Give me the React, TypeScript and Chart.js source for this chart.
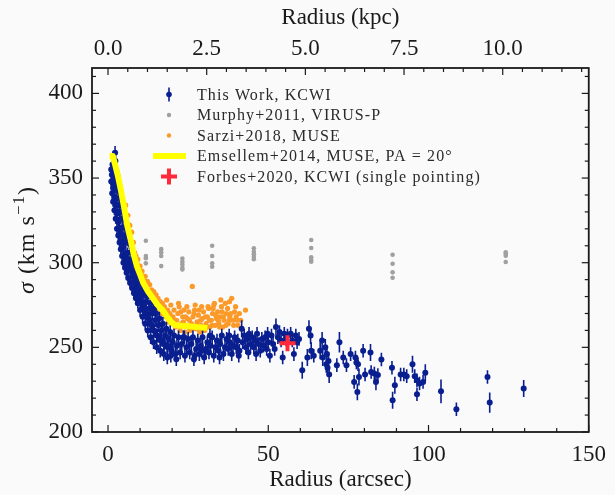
import React, { useEffect, useRef } from 'react';
import { Chart, registerables } from 'chart.js';
Chart.register(...registerables);

// ---- axes ----
const KPC_PER_ARCSEC = 0.0812;
const X_MIN = -5;
const X_MAX = 150;
const Y_MIN = 200;
const Y_MAX = 415;
const X_TICKS = [0, 50, 100, 150];
const X_MINOR = [10, 20, 30, 40, 60, 70, 80, 90, 110, 120, 130, 140];
const Y_TICKS = [200, 250, 300, 350, 400];
const Y_MINOR = [210, 220, 230, 240, 260, 270, 280, 290, 310, 320, 330, 340, 360, 370, 380, 390, 410];
const KPC_TICKS = [0, 2.5, 5, 7.5, 10];
const KPC_MINOR = [0.5, 1, 1.5, 2, 3, 3.5, 4, 4.5, 5.5, 6, 6.5, 7, 8, 8.5, 9, 9.5, 10.5, 11, 11.5, 12];

// ---- This Work, KCWI ----
const kcwiR = [
  1.2, 1.4, 1.5, 1.7, 1.8, 2.0, 2.1, 2.2, 2.3, 2.4, 2.6, 2.7, 2.8, 3.0, 3.1, 3.3, 3.4, 3.6, 3.7, 3.9,
  4.0, 4.2, 4.3, 4.5, 4.6, 4.8, 5.0, 5.1, 5.3, 5.5, 5.6, 5.8, 6.0, 6.1, 6.3, 6.5, 6.7, 6.8, 7.0, 7.2,
  7.4, 7.6, 7.8, 8.0, 8.2, 8.4, 8.6, 8.8, 9.0, 9.2, 9.5, 9.7, 9.9, 10.2, 10.4, 10.7, 11.0, 11.2, 11.5, 11.8,
  12.0, 12.3, 12.6, 12.9, 13.2, 13.5, 13.8, 14.1, 14.4, 14.7, 15.0, 15.4, 15.7, 16.0, 16.4, 16.7, 17.1, 17.5, 17.8, 18.2,
  18.6, 19.0, 19.4, 19.8, 20.2, 20.6, 21.0, 21.5, 22.0, 22.5, 23.0, 23.5, 24.0, 24.5, 25.0, 25.5, 26.0, 26.5, 27.0, 27.5,
  28.0, 28.5, 29.0, 29.5, 30.0, 30.5, 31.0, 31.5, 32.0, 32.5, 33.0, 33.5, 34.0, 34.5, 35.0, 35.5, 36.0, 36.5, 37.0, 37.5,
  38.0, 38.6, 39.0, 39.5, 40.0, 40.5, 41.0, 41.7, 42.0, 42.5, 43.0, 43.5, 44.0, 44.5, 45.0, 45.5, 46.0, 46.5, 47.0, 47.5,
  48.0, 48.5, 49.0, 49.5, 50.0, 51.0, 51.5, 52.0, 52.4, 53.0, 53.5, 54.0, 54.5, 55.0, 55.5, 56.0, 57.0, 57.5, 58.0, 58.6,
  59.0, 59.6, 60.6, 62.2, 62.7, 63.2, 63.4, 64.2, 66.2, 66.8, 67.0, 67.8, 68.3, 68.1, 68.8, 69.0, 68.5, 72.2, 71.4, 73.4,
  74.4, 75.7, 77.2, 77.5, 78.0, 76.8, 78.3, 77.8, 79.6, 81.9, 80.2, 82.1, 83.1, 83.6, 84.2, 85.3, 88.6, 88.8, 89.5, 91.3,
  92.3, 93.2, 95.0, 95.7, 96.4, 97.2, 96.4, 98.3, 99.0, 103.9, 108.7, 118.4, 119.1, 129.7,
  1.0, 1.0, 1.3, 1.6, 1.6, 2.0, 2.0, 2.4, 2.4, 2.8, 2.8, 3.2, 3.2, 3.6, 3.6, 4.0, 4.0, 4.4, 4.4, 4.8,
  4.8, 5.3, 5.3, 5.8, 5.8, 6.3, 6.3, 6.9, 6.9, 7.5, 7.5, 8.1, 8.1, 8.7, 8.7, 9.3, 9.3, 10.0, 10.0, 10.8,
  10.8, 11.6, 11.6, 12.4, 12.4, 13.3, 13.3, 14.2, 14.2, 15.2, 15.2, 16.3, 16.3, 17.4, 17.4, 18.5, 18.5, 19.6, 19.6, 21.3,
  23.8, 26.8, 29.2, 31.8, 34.8, 37.8, 40.8, 43.8, 46.2, 49.8, 50.5,
];
const kcwiSigma = [
  352, 358, 347, 362, 350, 356, 343, 365, 360, 349, 354, 338, 346, 351, 334, 342, 346, 330, 338, 341,
  326, 334, 336, 321, 330, 332, 316, 325, 328, 312, 320, 323, 306, 315, 318, 302, 311, 313, 298, 306,
  309, 294, 301, 303, 289, 296, 299, 285, 292, 295, 281, 288, 291, 277, 284, 287, 274, 281, 283, 270,
  277, 280, 267, 273, 276, 263, 270, 273, 260, 266, 270, 257, 263, 267, 254, 260, 264, 252, 257, 261,
  250, 255, 259, 248, 253, 257, 246, 251, 256, 247, 252, 256, 245, 250, 255, 247, 252, 256, 245, 249,
  254, 246, 251, 256, 244, 249, 253, 247, 251, 256, 245, 250, 254, 248, 252, 257, 246, 250, 255, 249,
  253, 246, 251, 256, 250, 254, 248, 261, 253, 257, 250, 255, 258, 252, 256, 250, 254, 258, 252, 248,
  255, 251, 256, 249, 253, 257, 252, 249, 262, 256, 259, 254, 244, 258, 255, 257, 258, 254, 246, 257,
  253, 255, 236.5, 244, 261, 257, 248, 245, 248, 254, 244, 250, 246, 240, 242, 234, 238, 253, 239.5, 244,
  239.5, 246, 244, 241, 240, 229.6, 232.5, 223.7, 248, 247, 234, 235.5, 234.6, 229.6, 233.6, 242.8, 238, 218.8, 227.6, 234,
  234, 233, 240, 233, 230.6, 228.6, 222.3, 229.6, 235, 224, 213.4, 232.5, 217.4, 225.7,
  355, 348, 341, 336, 344, 331, 339, 326, 334, 320, 329, 316, 324, 312, 320, 308, 317, 304, 313, 300,
  309, 297, 305, 294, 302, 291, 299, 288, 296, 285, 292, 282, 289, 279, 286, 276, 283, 272, 280, 268,
  276, 264, 272, 260, 268, 256, 264, 253, 260, 250, 257, 248, 255, 246, 252, 244, 251, 245, 250, 243,
  256, 243, 248, 257, 244, 257, 245, 247, 246, 258, 245,
];
const kcwiErr = [
  4, 4, 4, 4, 4, 4, 4, 4, 4, 4, 3, 3, 3, 3, 3, 3, 3, 3, 3, 3,
  3, 3, 3, 3, 3, 3, 3, 3, 3, 3, 3, 3, 3, 3, 3, 3, 3, 3, 3, 3,
  3, 3, 3, 3, 3, 3, 3, 3, 3, 3, 3, 3, 3, 4, 4, 4, 4, 4, 4, 4,
  4, 4, 4, 4, 4, 4, 4, 4, 4, 4, 4, 4, 4, 4, 4, 4, 4, 4, 4, 4,
  4, 4, 4, 4, 4, 4, 4, 4, 4, 4, 4, 4, 4, 4, 4, 4, 4, 4, 4, 4,
  4, 4, 4, 4, 4, 4, 4, 4, 4, 4, 4, 4, 4, 4, 4, 4, 4, 4, 4, 4,
  4, 4, 4, 4, 4, 4, 4, 5, 4, 4, 4, 4, 4, 4, 4, 4, 4, 4, 4, 4,
  4, 4, 4, 4, 4, 4, 4, 4, 5, 4, 4, 4, 4, 4, 4, 4, 4, 4, 4, 4,
  4, 4, 5, 5, 5, 5, 5, 4, 5, 5, 5, 5, 4, 5, 5, 5, 4, 6, 4, 4,
  4, 4, 4, 4, 4, 4, 5, 5, 4, 5, 4, 4, 4, 5, 4, 4, 4, 5, 5, 4,
  4, 4, 5, 4, 4, 4, 4, 4, 5, 7, 4, 4, 6, 5,
  4, 4, 4, 3, 3, 3, 3, 3, 3, 3, 3, 3, 3, 3, 3, 3, 3, 3, 3, 3,
  3, 3, 3, 3, 3, 3, 3, 3, 3, 3, 3, 3, 3, 3, 3, 3, 3, 4, 4, 4,
  4, 4, 4, 4, 4, 4, 4, 4, 4, 4, 4, 4, 4, 4, 4, 4, 4, 4, 4, 4,
  4, 4, 4, 4, 4, 4, 4, 4, 4, 4, 4,
];

// ---- Murphy+2011, VIRUS-P ----
const murphyR = [11.8, 11.8, 11.8, 11.8, 16.6, 16.6, 16.6, 16.6, 23.2, 23.2, 23.2, 23.2, 23.2, 32.5, 32.5, 32.5, 32.5,
  45.5, 45.5, 45.5, 45.5, 45.5, 63.4, 63.4, 63.4, 63.4, 63.4, 88.8, 88.8, 88.8, 88.8, 124.1, 124.1, 124.1, 124.1];
const murphySigma = [313, 304, 302.6, 299.6, 308, 306, 304, 298, 302.5, 300.5, 299, 297, 296, 310, 304, 299.6, 297.6,
  308.5, 306.5, 305, 303.5, 302, 313.4, 308.7, 303.2, 301.6, 300.6, 304.7, 299.4, 294.3, 291.1, 306.2, 305.2, 304.1, 300.4];

// ---- Sarzi+2018, MUSE ----
const sarziR = [
  5.5, 6.2, 6.8, 7.4, 7.9, 8.3, 8.7, 9.0, 9.3, 9.6, 10.0, 10.3, 10.6, 11.0, 11.3, 11.6, 12.0, 12.3, 12.6, 13.0,
  13.3, 13.6, 14.0, 14.3, 14.6, 15.0, 15.3, 15.6, 16.0, 16.3, 16.6, 17.0, 17.3, 17.6, 18.0, 18.3, 18.6, 19.0, 19.3, 19.6,
  20.0, 20.3, 20.6, 21.0, 21.4, 21.8, 22.2, 22.5, 22.9, 23.3, 23.7, 24.0, 24.4, 24.8, 25.2, 25.6, 26.0, 26.3, 26.5, 27.0,
  27.4, 27.8, 28.2, 28.6, 29.0, 29.4, 29.8, 30.2, 30.6, 31.0, 31.4, 31.8, 32.2, 32.6, 33.0, 33.4, 33.8, 34.2, 34.6, 35.0,
  35.4, 35.8, 36.2, 36.6, 37.0, 37.5, 38.0, 38.6, 39.0, 39.5, 40.0, 40.5, 41.0, 42.9,
  12.2, 13.8, 15.2, 16.8, 18.8, 19.8, 20.8, 21.6, 22.7, 23.5, 24.2, 25.0, 25.4, 26.2, 26.8, 27.6, 28.4, 28.9, 29.6, 30.4,
  30.9, 31.6, 32.4, 32.8, 33.6, 34.4, 34.8, 35.6, 36.0, 36.8, 37.3, 37.8, 38.3, 39.2, 39.8, 40.3, 41.4, 37.9, 35.2, 33.2,
  31.2, 29.2, 27.2, 24.6, 22.0,
];
const sarziSigma = [
  334, 328, 322, 318, 312, 306, 304, 300, 302, 296, 298, 293, 295, 291, 289, 292, 286, 289, 284, 287,
  281, 284, 279, 283, 277, 281, 275, 279, 274, 277, 272, 276, 270, 274, 268, 278, 272, 266, 270, 275,
  264, 268, 272, 262, 266, 270, 274, 260, 264, 268, 272, 259, 263, 267, 271, 260, 264, 286, 268, 272,
  261, 265, 269, 259, 263, 267, 271, 260, 264, 268, 273, 262, 266, 270, 275, 263, 267, 271, 264, 268,
  274, 262, 266, 276, 270, 264, 268, 279, 266, 271, 268, 263, 270, 272,
  281, 277, 273, 270, 265, 268, 266, 263, 271, 265, 268, 262, 266, 261, 270, 263, 272, 266, 261, 268,
  262, 266, 263, 273, 269, 266, 262, 271, 268, 263, 273, 266, 270, 263, 274, 266, 266, 277, 278, 276,
  274, 274, 275, 274, 276,
];

// ---- Emsellem+2014, MUSE, PA = 20 ----
const emsR = [0.5, 1.5, 2.2, 3.0, 4.0, 5.0, 6.0, 7.0, 8.0, 9.0, 10.0, 11.0, 12.5, 14.0, 15.5, 17.0, 18.5, 19.7, 21.0, 25.0, 31.0];
const emsSigma = [363, 363, 358, 352, 343, 333, 322, 314, 305, 298, 293, 288, 283, 279, 275, 272, 268, 265, 263, 262.5, 261.5];

// ---- Forbes+2020, KCWI (single pointing) ----
const forbesR = [56];
const forbesSigma = [252.4];

const LEGEND_LABELS = [
  'This Work, KCWI',
  'Murphy+2011, VIRUS-P',
  'Sarzi+2018, MUSE',
  'Emsellem+2014, MUSE, PA = 20°',
  'Forbes+2020, KCWI (single pointing)',
];

const BLUE = '#0a1f8f';
const GRAY = '#a0a0a0';
const ORANGE = '#fb9a28';
const YELLOW = '#ffff00';
const RED = '#ff2a3a';
const BG = '#fafafa';
const INK = '#1a1a1a';
const FONT = '"Liberation Serif", "Times New Roman", serif';
const KCWI_INDEX = 3;

const pts = (xs: number[], ys: number[]) => xs.map((x, i) => ({ x, y: ys[i] }));

const bgPlugin = {
  id: 'bg',
  beforeDraw(chart: any) {
    const { ctx, width, height } = chart;
    ctx.save();
    ctx.fillStyle = BG;
    ctx.fillRect(0, 0, width, height);
    ctx.restore();
  },
};

const errPlugin = {
  id: 'errbars',
  beforeDatasetDraw(chart: any, args: any) {
    if (args.index !== KCWI_INDEX) return;
    const { ctx, scales, chartArea: a } = chart;
    const xs = scales.x, ys = scales.y;
    ctx.save();
    ctx.beginPath();
    ctx.rect(a.left, a.top, a.right - a.left, a.bottom - a.top);
    ctx.clip();
    ctx.strokeStyle = BLUE;
    ctx.lineWidth = 1.6;
    kcwiR.forEach((r, i) => {
      const px = xs.getPixelForValue(r);
      ctx.beginPath();
      ctx.moveTo(px, ys.getPixelForValue(kcwiSigma[i] - kcwiErr[i]));
      ctx.lineTo(px, ys.getPixelForValue(kcwiSigma[i] + kcwiErr[i]));
      ctx.stroke();
    });
    ctx.restore();
  },
};

const framePlugin = {
  id: 'frame',
  afterDraw(chart: any) {
    const { ctx, chartArea: a, scales } = chart;
    ctx.save();
    ctx.strokeStyle = INK;
    ctx.lineWidth = 1.2;
    const MAJ = 7, MIN = 4;
    const vTicks = (scale: any, vals: number[], len: number) => {
      vals.forEach((v) => {
        const px = scale.getPixelForValue(v);
        if (px < a.left - 0.5 || px > a.right + 0.5) return;
        ctx.beginPath(); ctx.moveTo(px, a.bottom); ctx.lineTo(px, a.bottom - len); ctx.stroke();
      });
    };
    const tTicks = (scale: any, vals: number[], len: number) => {
      vals.forEach((v) => {
        const px = scale.getPixelForValue(v);
        if (px < a.left - 0.5 || px > a.right + 0.5) return;
        ctx.beginPath(); ctx.moveTo(px, a.top); ctx.lineTo(px, a.top + len); ctx.stroke();
      });
    };
    const hTicks = (vals: number[], len: number) => {
      vals.forEach((v) => {
        const py = scales.y.getPixelForValue(v);
        ctx.beginPath(); ctx.moveTo(a.left, py); ctx.lineTo(a.left + len, py); ctx.stroke();
        ctx.beginPath(); ctx.moveTo(a.right, py); ctx.lineTo(a.right - len, py); ctx.stroke();
      });
    };
    vTicks(scales.x, X_TICKS, MAJ);
    vTicks(scales.x, X_MINOR, MIN);
    tTicks(scales.x2, KPC_TICKS, MAJ);
    tTicks(scales.x2, KPC_MINOR, MIN);
    hTicks(Y_TICKS, MAJ);
    hTicks(Y_MINOR, MIN);
    ctx.lineWidth = 1.8;
    ctx.strokeRect(a.left, a.top, a.right - a.left, a.bottom - a.top);

    // y-axis title
    ctx.fillStyle = INK;
    ctx.textBaseline = 'alphabetic';
    ctx.textAlign = 'left';
    (ctx as any).letterSpacing = '1px';
    const fMain = `24px ${FONT}`;
    const fIt = `italic 24px ${FONT}`;
    const fSup = `17px ${FONT}`;
    const parts: [string, string, number][] = [
      ['σ', fIt, 0], [' (km s', fMain, 0], ['−1', fSup, -10], [')', fMain, 0],
    ];
    let total = 0;
    parts.forEach(([t, f]) => { ctx.font = f; total += ctx.measureText(t).width; });
    ctx.translate(34, 240);
    ctx.rotate(-Math.PI / 2);
    let cx = -total / 2;
    parts.forEach(([t, f, dy]) => { ctx.font = f; ctx.fillText(t, cx, dy); cx += ctx.measureText(t).width; });
    ctx.restore();

    // legend
    ctx.save();
    const mx = 169, tx = 197;
    const rows = [94.5, 115, 135.5, 156, 176.5];
    ctx.font = `16px ${FONT}`;
    (ctx as any).letterSpacing = '1.1px';
    ctx.fillStyle = '#2a2a2a';
    ctx.textBaseline = 'middle';
    LEGEND_LABELS.forEach((t, i) => ctx.fillText(t, tx, rows[i] + 1));
    ctx.strokeStyle = BLUE; ctx.fillStyle = BLUE; ctx.lineWidth = 1.6;
    ctx.beginPath(); ctx.moveTo(mx, rows[0] - 7); ctx.lineTo(mx, rows[0] + 7); ctx.stroke();
    ctx.beginPath(); ctx.arc(mx, rows[0], 2.8, 0, Math.PI * 2); ctx.fill();
    ctx.fillStyle = GRAY;
    ctx.beginPath(); ctx.arc(mx, rows[1], 2.2, 0, Math.PI * 2); ctx.fill();
    ctx.fillStyle = ORANGE;
    ctx.beginPath(); ctx.arc(mx, rows[2], 2.2, 0, Math.PI * 2); ctx.fill();
    ctx.strokeStyle = YELLOW; ctx.lineWidth = 6;
    ctx.beginPath(); ctx.moveTo(153, rows[3]); ctx.lineTo(186, rows[3]); ctx.stroke();
    ctx.strokeStyle = RED; ctx.lineWidth = 4;
    ctx.beginPath(); ctx.moveTo(mx - 8, rows[4]); ctx.lineTo(mx + 8, rows[4]);
    ctx.moveTo(mx, rows[4] - 8); ctx.lineTo(mx, rows[4] + 8); ctx.stroke();
    ctx.restore();
  },
};

export default function App() {
  const ref = useRef<HTMLCanvasElement>(null);
  useEffect(() => {
    document.body.style.margin = '0';
    document.body.style.background = BG;
    const canvas = ref.current!;
    const tickFont = { family: FONT, size: 23 };
    const chart = new Chart(canvas, {
      type: 'scatter',
      data: {
        datasets: [
          {
            label: 'Forbes', data: pts(forbesR, forbesSigma), pointStyle: 'cross', pointRadius: 8,
            borderColor: RED, backgroundColor: RED, borderWidth: 4, xAxisID: 'x', yAxisID: 'y',
          },
          {
            label: 'Murphy', data: pts(murphyR, murphySigma), pointRadius: 2.3, borderWidth: 0,
            backgroundColor: GRAY, borderColor: GRAY, xAxisID: 'x', yAxisID: 'y',
          },
          {
            type: 'line', label: 'Emsellem', data: pts(emsR, emsSigma), borderColor: YELLOW, borderWidth: 6,
            pointRadius: 0, fill: false, tension: 0, borderJoinStyle: 'round', borderCapStyle: 'butt', xAxisID: 'x', yAxisID: 'y',
          } as any,
          {
            label: 'KCWI', data: pts(kcwiR, kcwiSigma), pointRadius: 3, borderWidth: 0,
            backgroundColor: BLUE, borderColor: BLUE, xAxisID: 'x', yAxisID: 'y',
          },
          {
            label: 'Sarzi', data: pts(sarziR, sarziSigma), pointRadius: 2.6, borderWidth: 0,
            backgroundColor: ORANGE, borderColor: ORANGE, xAxisID: 'x', yAxisID: 'y',
          },
        ],
      },
      options: {
        responsive: false,
        animation: false,
        devicePixelRatio: 1,
        layout: { padding: 0 },
        plugins: { legend: { display: false }, tooltip: { enabled: false } },
        scales: {
          x: {
            type: 'linear', position: 'bottom', min: X_MIN, max: X_MAX,
            grid: { display: false, drawTicks: false }, border: { display: false },
            afterBuildTicks: (s: any) => { s.ticks = X_TICKS.map((v) => ({ value: v })); },
            afterFit: (s: any) => { s.height = 63; },
            ticks: { font: tickFont, color: INK, padding: 9, maxRotation: 0, autoSkip: false },
            title: { display: true, text: 'Radius (arcsec)', font: tickFont, color: INK, padding: { top: 0, bottom: 1 } },
          },
          x2: {
            type: 'linear', position: 'top', min: X_MIN * KPC_PER_ARCSEC, max: X_MAX * KPC_PER_ARCSEC,
            grid: { display: false, drawTicks: false }, border: { display: false },
            afterBuildTicks: (s: any) => { s.ticks = KPC_TICKS.map((v) => ({ value: v })); },
            afterFit: (s: any) => { s.height = 68; },
            ticks: { font: tickFont, color: INK, padding: 5, maxRotation: 0, autoSkip: false, callback: (v: any) => Number(v).toFixed(1) },
            title: { display: true, text: 'Radius (kpc)', font: tickFont, color: INK, padding: { top: 4, bottom: 0 } },
          },
          y: {
            type: 'linear', position: 'left', min: Y_MIN, max: Y_MAX,
            grid: { display: false, drawTicks: false }, border: { display: false },
            afterBuildTicks: (s: any) => { s.ticks = Y_TICKS.map((v) => ({ value: v })); },
            afterFit: (s: any) => { s.width = 92; },
            ticks: { font: tickFont, color: INK, padding: 9, autoSkip: false },
          },
          y2: {
            type: 'linear', position: 'right', min: Y_MIN, max: Y_MAX,
            grid: { display: false, drawTicks: false }, border: { display: false },
            ticks: { display: false },
            afterFit: (s: any) => { s.width = 19; },
          },
        },
      } as any,
      plugins: [bgPlugin, errPlugin, framePlugin],
    });
    return () => chart.destroy();
  }, []);
  return (
    <div style={{ width: 615, height: 495, background: BG }}>
      <canvas ref={ref} width={615} height={495} />
    </div>
  );
}
